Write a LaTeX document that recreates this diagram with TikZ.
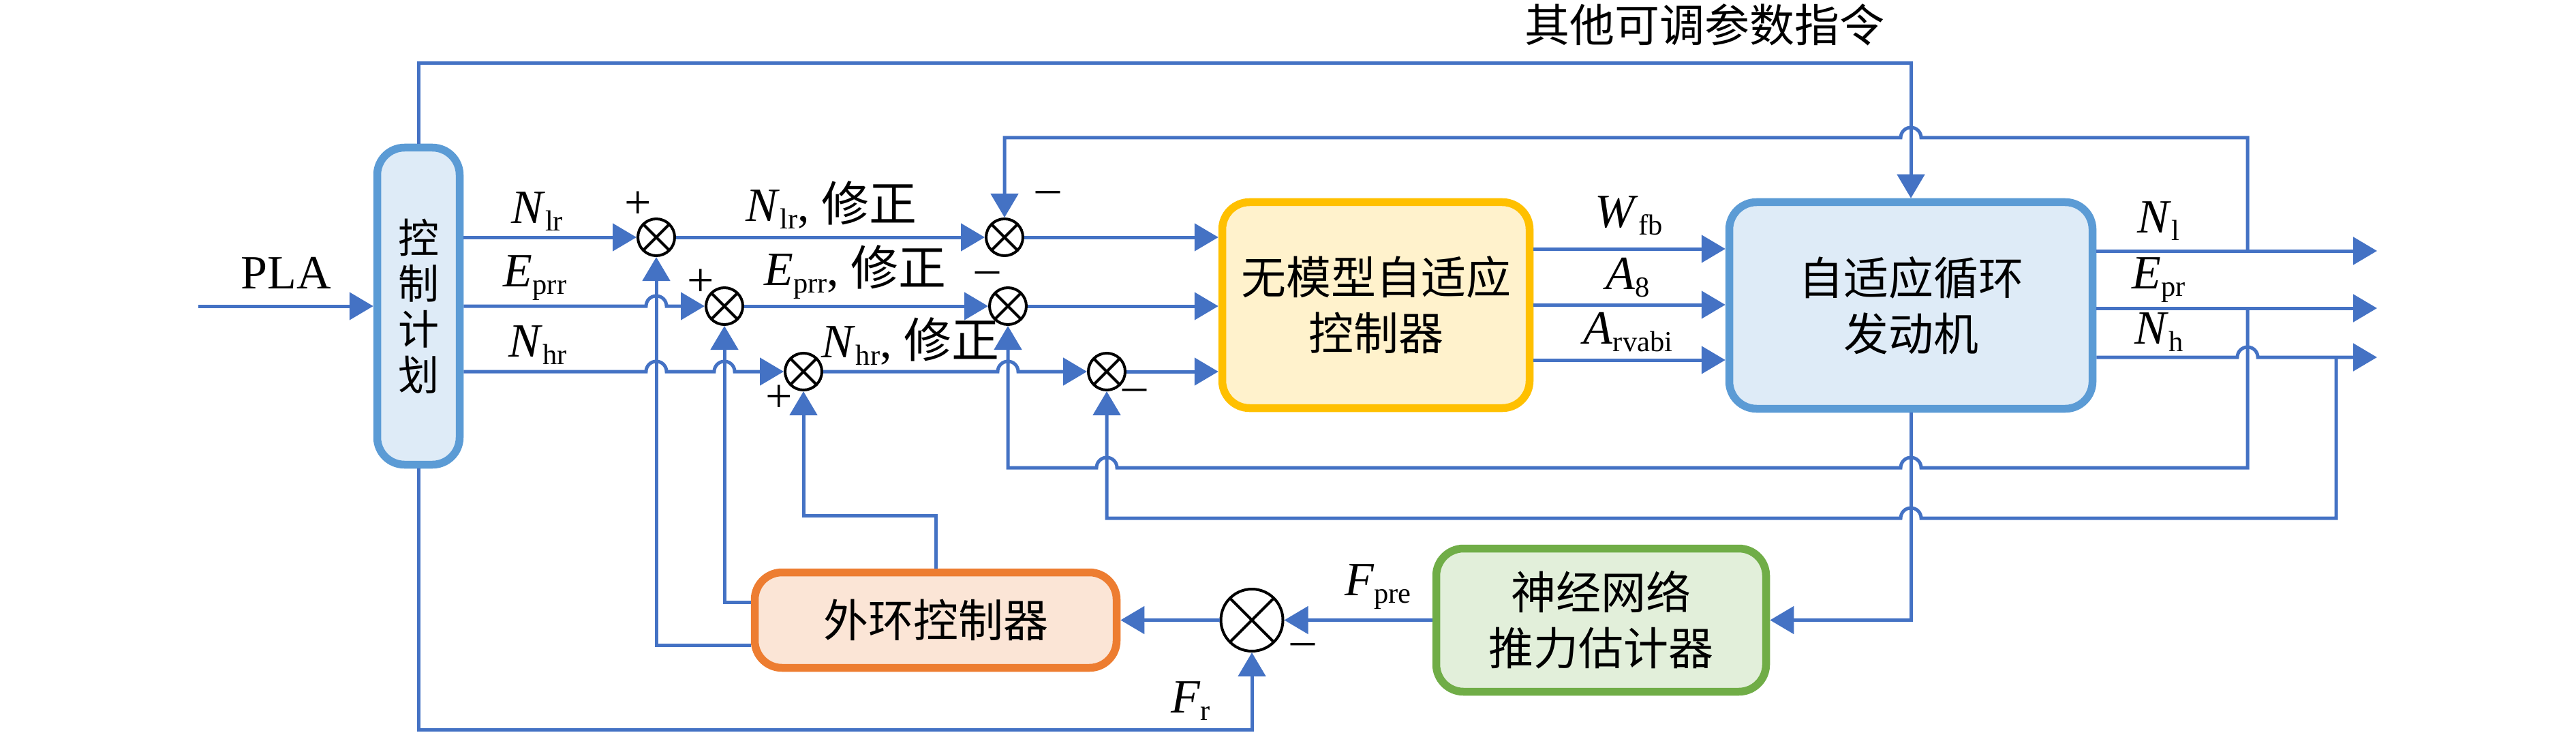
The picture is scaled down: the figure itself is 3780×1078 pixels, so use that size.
\documentclass[tikz,border=0pt]{standalone}
\usepackage{fontspec}
\setmainfont{Liberation Serif}
\newfontfamily\cjk{Noto Sans CJK SC}
\usetikzlibrary{arrows.meta}

\definecolor{linkblue}{HTML}{4472C4}
\definecolor{planline}{HTML}{5B9BD5}
\definecolor{planfill}{HTML}{DEEBF7}
\definecolor{mfacline}{HTML}{FFC000}
\definecolor{mfacfill}{HTML}{FFF2CC}
\definecolor{nnline}{HTML}{70AD47}
\definecolor{nnfill}{HTML}{E2EFDA}
\definecolor{outerline}{HTML}{ED7D31}
\definecolor{outerfill}{HTML}{FBE5D6}

\newcommand{\signame}[2]{\textit{#1}\raisebox{-2.2pt}{\fontsize{8.5pt}{9pt}\selectfont #2}}

\tikzset{every picture/.style={line width=1pt},
  link/.style={draw=linkblue, line width=1pt, -{Triangle[length=7pt,width=8pt]}},
  sumnode/.style={circle, draw=black, line width=0.8pt, minimum size=10.8pt, inner sep=0pt,
    path picture={\draw[line width=0.8pt] (path picture bounding box.north west) -- (path picture bounding box.south east)
      (path picture bounding box.north east) -- (path picture bounding box.south west);}},
  block/.style={line width=2.3pt, rounded corners=8pt, align=center, inner sep=0pt,
    font=\fontsize{13.2pt}{16.4pt}\selectfont\cjk},
  sigtext/.style={font=\fontsize{14pt}{16pt}\selectfont, inner sep=0pt}}

\begin{document}
\begin{tikzpicture}[x=0.2pt,y=-0.2pt]
\useasboundingbox (0,0) rectangle (3780,1078);

%Block: control plan
\node[block, draw=planline, fill=planfill, minimum width=24.2pt, minimum height=93pt, font=\fontsize{12pt}{13.4pt}\selectfont\cjk] (plan) at (614,449) {控\\制\\计\\划};
%Block: model-free adaptive controller
\node[block, draw=mfacline, fill=mfacfill, minimum width=90.2pt, minimum height=60.4pt] (mfac) at (2019,447.5) {无模型自适应\\控制器};
%Block: engine
\node[block, draw=planline, fill=planfill, minimum width=106.6pt, minimum height=60.6pt] (eng) at (2804,448) {自适应循环\\发动机};
%Block: thrust estimator
\node[block, draw=nnline, fill=nnfill, minimum width=96.8pt, minimum height=42pt] (nn) at (2349.5,909.5) {神经网络\\推力估计器};
%Block: outer loop controller
\node[block, draw=outerline, fill=outerfill, minimum width=106.2pt, minimum height=28pt] (outer) at (1373,909.5) {外环控制器};

%Sum points
\node[sumnode] (s1) at (963,348) {};
\node[sumnode] (s2) at (1063,449) {};
\node[sumnode] (s3) at (1179,545) {};
\node[sumnode] (s4) at (1474,348) {};
\node[sumnode] (s5) at (1479,449) {};
\node[sumnode] (s6) at (1624,545) {};
\node[sumnode, minimum size=18.2pt] (s7) at (1837,909.5) {};

%Free ends and branch points
\coordinate (pla) at (291,449);
\coordinate (oNl) at (3488,368);
\coordinate (oEpr) at (3488,452);
\coordinate (oNh) at (3488,524);
\coordinate (bNl) at (3298,368);
\coordinate (bEpr) at (3298,452);
\coordinate (bNh) at (3428,524);

%Straight Lines: references
\draw[link] (pla) -- (plan);
\draw[link] (plan.east |- s1) -- (s1);
\draw[link] (plan.east |- s2) -- (948,449) arc[start angle=180,end angle=0,radius=3pt] -- (s2);
\draw[link] (plan.east |- s3) -- (948,545) arc[start angle=180,end angle=0,radius=3pt] -- (1048,545) arc[start angle=180,end angle=0,radius=3pt] -- (s3);
\draw[link] (s1) -- (s4);
\draw[link] (s2) -- (s5);
\draw[link] (s3) -- (1464,545) arc[start angle=180,end angle=0,radius=3pt] -- (s6);
\draw[link] (s4) -- (mfac.west |- s4);
\draw[link] (s5) -- (mfac.west |- s5);
\draw[link] (s6) -- (mfac.west |- s6);
%Straight Lines: control inputs
\draw[link] (mfac.east |- 0,365) -- (eng.west |- 0,365);
\draw[link] (mfac.east |- 0,447) -- (eng.west |- 0,447);
\draw[link] (mfac.east |- 0,528) -- (eng.west |- 0,528);
%Straight Lines: engine outputs
\draw[link] (eng.east |- oNl) -- (oNl);
\draw[link] (eng.east |- oEpr) -- (oEpr);
\draw[link] (eng.east |- oNh) -- (3283,524) arc[start angle=180,end angle=0,radius=3pt] -- (oNh);
%Straight Lines: feedback
\draw[link] (bNl) -- (bNl |- 0,202) -- (2819,202) arc[start angle=0,end angle=180,radius=3pt] -- (s4 |- 0,202) -- (s4);
\draw[link] (bEpr) -- (bEpr |- 0,686) -- (2819,686) arc[start angle=0,end angle=180,radius=3pt] -- (1639,686) arc[start angle=0,end angle=180,radius=3pt] -- (s5 |- 0,686) -- (s5);
\draw[link] (bNh) -- (bNh |- 0,760) -- (2819,760) arc[start angle=0,end angle=180,radius=3pt] -- (s6 |- 0,760) -- (s6);
\draw[link] (plan.north) -- (plan |- 0,93) -- (eng |- 0,93) -- (eng.north);
%Straight Lines: thrust loop
\draw[link] (eng.south) -- (eng |- nn) -- (nn.east);
\draw[link] (nn.west) -- (s7);
\draw[link] (s7) -- (outer.east);
\draw[link] (outer.north) -- (outer |- 0,756) -- (s3 |- 0,756) -- (s3);
\draw[link] (outer.west |- 0,883) -- (s2 |- 0,883) -- (s2);
\draw[link] (outer.west |- 0,946) -- (s1 |- 0,946) -- (s1);
\draw[link] (plan.south) -- (plan |- 0,1070) -- (s7 |- 0,1070) -- (s7);

% Text Node
\node[sigtext] (tpla) at (420,400) {PLA};
% Text Node
\node[sigtext, font=\fontsize{13.2pt}{16pt}\selectfont\cjk] (tparam) at (2501,36) {其他可调参数指令};
% Text Node
\node[sigtext, anchor=south] (lNlr) at (788,341) {\signame{N}{lr}};
\node[sigtext, anchor=south] (lEprr) at (785,443) {\signame{E}{prr}};
\node[sigtext, anchor=south] (lNhr) at (789,537) {\signame{N}{hr}};
% Text Node
\node[sigtext, anchor=south] (lNlrc) at (1220,338) {\signame{N}{lr}, {\cjk 修正}};
\node[sigtext, anchor=south] (lEprrc) at (1255,441) {\signame{E}{prr}, {\cjk 修正}};
\node[sigtext, anchor=south] (lNhrc) at (1336,538) {\signame{N}{hr}, {\cjk 修正}};
% Text Node
\node[sigtext, anchor=south] (lWfb) at (2390,347) {\signame{W}{fb}};
\node[sigtext, anchor=south] (lA8) at (2389,438) {\signame{A}{8}};
\node[sigtext, anchor=south] (lArv) at (2389,518) {\signame{A}{rvabi}};
% Text Node
\node[sigtext, anchor=south] (lNl) at (3167,355) {\signame{N}{l}};
\node[sigtext, anchor=south] (lEpr) at (3168,446) {\signame{E}{pr}};
\node[sigtext, anchor=south] (lNh) at (3168,518) {\signame{N}{h}};
% Text Node
\node[sigtext, anchor=south] (lFpre) at (2022,896) {\signame{F}{pre}};
\node[sigtext, anchor=south] (lFr) at (1747,1059) {\signame{F}{r}};
% Text Node: signs
\node[sigtext] (pl1) at (936,301) {+};
\node[sigtext] (pl2) at (1028,415) {+};
\node[sigtext] (pl3) at (1143,585) {+};
\node[sigtext] (mi4) at (1538,289) {--};
\node[sigtext] (mi5) at (1449,407) {--};
\node[sigtext] (mi6) at (1665,579) {--};
\node[sigtext] (mi7) at (1912,952) {--};

\end{tikzpicture}
\end{document}
